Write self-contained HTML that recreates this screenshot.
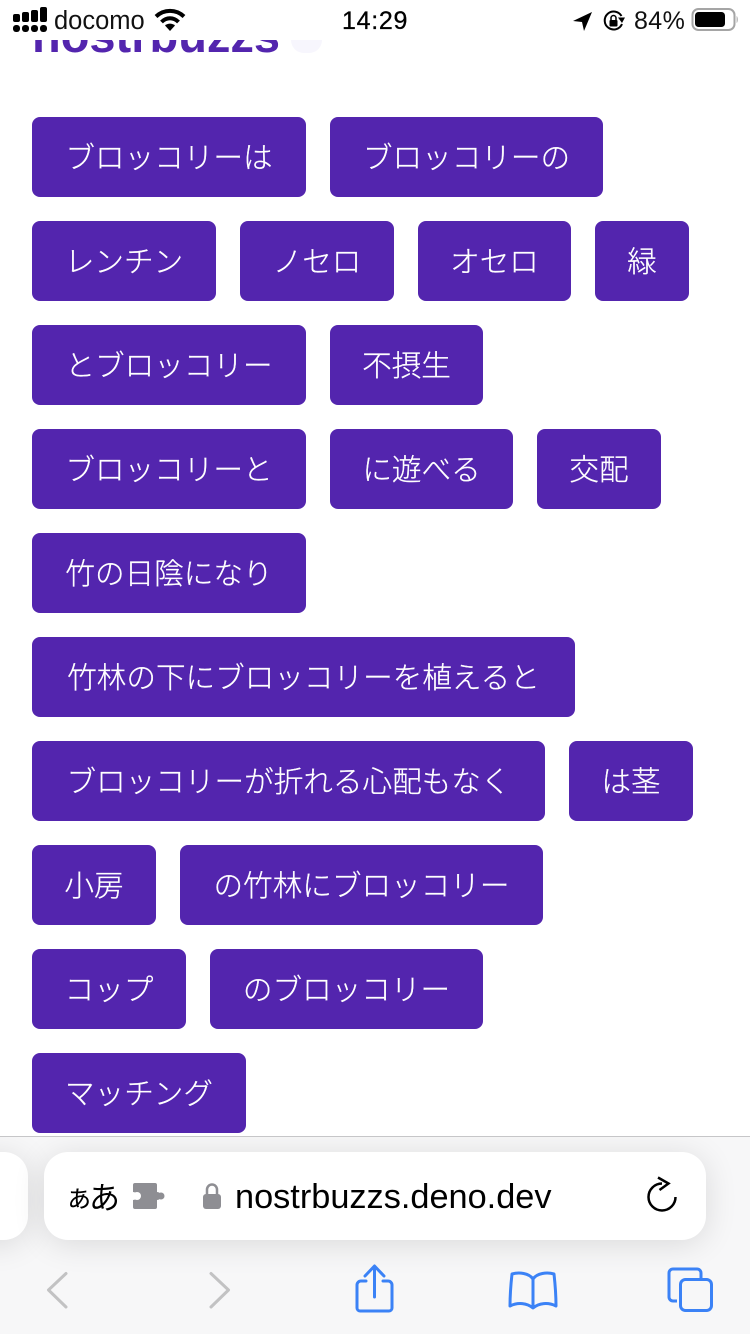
<!DOCTYPE html>
<html lang="ja">
<head>
<meta charset="utf-8">
<style>
html,body{margin:0;padding:0;background:#fff}
#p{position:relative;width:750px;height:1334px;overflow:hidden;background:#fff;font-family:"Liberation Sans","Noto Sans CJK JP",sans-serif}
.b{position:absolute;height:80px;line-height:78px;background:#5325ae;color:#fff;border-radius:8px;font-size:29.600px;text-align:center;white-space:nowrap;font-family:"Noto Sans CJK JP","Liberation Sans",sans-serif;font-weight:300;-webkit-text-stroke:.25px #fff}
.t{position:absolute;white-space:nowrap}
svg{position:absolute}
</style>
</head>
<body>
<div id="p">
<div style="position:absolute;left:291px;top:40px;width:31px;height:13px;background:#f7f6fd;border-radius:0 0 16px 16px"></div>
<div style="position:absolute;left:32px;top:40px;width:252px;height:14px;overflow:hidden"><div style="position:absolute;left:0;top:-33px;font-size:47px;font-weight:700;line-height:58px;color:#5325ae;white-space:nowrap">nostrbuzzs</div></div>

<!-- status bar -->
<svg style="left:12px;top:6px" width="36" height="27" viewBox="0 0 36 27" fill="#000">
<rect x="1" y="8" width="7" height="8" rx="2"/><rect x="1" y="19" width="7" height="7" rx="3"/>
<rect x="10" y="6" width="7" height="10" rx="2"/><rect x="10" y="19" width="7" height="7" rx="3"/>
<rect x="19" y="4" width="7" height="12" rx="2"/><rect x="19" y="19" width="7" height="7" rx="3"/>
<rect x="28" y="1" width="7" height="15" rx="2"/><rect x="28" y="19" width="7" height="7" rx="3"/>
</svg>
<div class="t" style="left:54px;top:7px;font-size:25.500px;line-height:29px;color:#111">docomo</div>
<svg style="left:154px;top:8px" width="32" height="24" viewBox="0 0 32 24">
<path d="M2 8.500C10 1 22 1 30 8.500" fill="none" stroke="#000" stroke-width="4"/>
<path d="M7.500 14C12.500 9 19.500 9 24.500 14" fill="none" stroke="#000" stroke-width="4"/>
<path d="M11 17.500C14 15 18 15 21 17.500L16 23Z" fill="#000"/>
</svg>
<div class="t" style="left:342px;top:6px;font-size:25px;line-height:30px;color:#000;letter-spacing:.7px;-webkit-text-stroke:.3px #000">14:29</div>
<svg style="left:572px;top:10px" width="22" height="22" viewBox="0 0 22 22"><path d="M20 2L1 11l9 1 2 9z" fill="#000"/></svg>
<svg style="left:602px;top:9px" width="24" height="24" viewBox="0 0 24 24">
<path d="M20 15A9 9 0 1 1 19.500 7" fill="none" stroke="#000" stroke-width="2"/>
<path d="M16 8.500h7L20 14z" fill="#000"/>
<rect x="7.500" y="11" width="8" height="6.500" rx="1" fill="#000"/>
<path d="M9 11V9a2.500 2.500 0 0 1 5 0v2" fill="none" stroke="#000" stroke-width="1.500"/>
</svg>
<div class="t" style="left:634px;top:6px;font-size:25px;line-height:30px;color:#111;letter-spacing:.4px">84%</div>
<svg style="left:690px;top:6px" width="50" height="26" viewBox="0 0 50 26">
<rect x="2.500" y="3" width="42" height="21" rx="6" fill="none" stroke="#a5a5a5" stroke-width="2"/>
<rect x="5" y="6" width="30" height="15" rx="3.500" fill="#000"/>
<path d="M46.500 10c2 1 2 6 0 7z" fill="#bbb"/>
</svg>

<!-- buttons -->
<div class="b" style="left:32px;top:117px;width:274px">ブロッコリーは</div>
<div class="b" style="left:330px;top:117px;width:273px">ブロッコリーの</div>
<div class="b" style="left:32px;top:221px;width:184px">レンチン</div>
<div class="b" style="left:240px;top:221px;width:154px">ノセロ</div>
<div class="b" style="left:418px;top:221px;width:153px">オセロ</div>
<div class="b" style="left:595px;top:221px;width:94px">緑</div>
<div class="b" style="left:32px;top:325px;width:274px">とブロッコリー</div>
<div class="b" style="left:330px;top:325px;width:153px">不摂生</div>
<div class="b" style="left:32px;top:429px;width:274px">ブロッコリーと</div>
<div class="b" style="left:330px;top:429px;width:183px">に遊べる</div>
<div class="b" style="left:537px;top:429px;width:124px">交配</div>
<div class="b" style="left:32px;top:533px;width:274px">竹の日陰になり</div>
<div class="b" style="left:32px;top:637px;width:543px">竹林の下にブロッコリーを植えると</div>
<div class="b" style="left:32px;top:741px;width:513px">ブロッコリーが折れる心配もなく</div>
<div class="b" style="left:569px;top:741px;width:124px">は茎</div>
<div class="b" style="left:32px;top:845px;width:124px">小房</div>
<div class="b" style="left:180px;top:845px;width:363px">の竹林にブロッコリー</div>
<div class="b" style="left:32px;top:949px;width:154px">コップ</div>
<div class="b" style="left:210px;top:949px;width:273px">のブロッコリー</div>
<div class="b" style="left:32px;top:1053px;width:214px">マッチング</div>

<!-- bottom bar -->
<div style="position:absolute;left:0;top:1136px;width:750px;height:198px;background:#f7f7f8;border-top:1px solid #c6c6c8;box-sizing:border-box;overflow:hidden">
<div style="position:absolute;left:-40px;top:15px;width:68px;height:88px;background:#fff;border-radius:24px;box-shadow:0 4px 32px rgba(0,0,0,.12)"></div>
<div style="position:absolute;left:44px;top:15px;width:662px;height:88px;background:#fff;border-radius:24px;box-shadow:0 4px 32px rgba(0,0,0,.12)"></div>
</div>
<div class="t" style="left:65px;top:1178px;font-size:28px;line-height:36px;color:#000;font-family:'Noto Sans CJK JP',sans-serif">ぁ</div>
<div class="t" style="left:89px;top:1178px;font-size:31px;line-height:36px;color:#000;font-family:'Noto Sans CJK JP',sans-serif">あ</div>
<svg style="left:132px;top:1182px" width="34" height="28" viewBox="0 0 34 28">
<path d="M3 1h20a2 2 0 0 1 2 2v7a4 4 0 1 1 0 8v7a2 2 0 0 1-2 2H3a2 2 0 0 1-2-2V18a4 4 0 1 0 0-8V3a2 2 0 0 1 2-2z" fill="#8e8e93"/>
<circle cx="29" cy="14" r="3.500" fill="#8e8e93"/>
<circle cx="5" cy="14" r="4" fill="#fff"/>
</svg>
<svg style="left:202px;top:1182px" width="20" height="28" viewBox="0 0 20 28">
<rect x="1" y="12" width="18" height="15" rx="3" fill="#8e8e93"/>
<path d="M5 13V7.500a5 5 0 0 1 10 0V13" fill="none" stroke="#8e8e93" stroke-width="2.500"/>
</svg>
<div class="t" style="left:235px;top:1177px;font-size:34.300px;line-height:40px;color:#000">nostrbuzzs.deno.dev</div>
<svg style="left:644px;top:1172px" width="36" height="42" viewBox="0 0 36 42" fill="none" stroke="#000" stroke-width="2.500">
<path d="M18 11.500A13.500 13.500 0 1 0 31.500 25"/>
<path d="M14 5.500l10.500 6-9 6.500" stroke-linejoin="miter"/>
</svg>
<svg style="left:44px;top:1270px" width="26" height="40" viewBox="0 0 26 40" fill="none" stroke="#c2c2c3" stroke-width="3" stroke-linecap="round" stroke-linejoin="round"><path d="M22 3.500L4.500 20 22 37"/></svg>
<svg style="left:207px;top:1270px" width="26" height="40" viewBox="0 0 26 40" fill="none" stroke="#c2c2c3" stroke-width="3" stroke-linecap="round" stroke-linejoin="round"><path d="M4 3.500L21.500 20 4 37"/></svg>
<svg style="left:354px;top:1264px" width="42" height="50" viewBox="0 0 42 50" fill="none" stroke="#3b82f6" stroke-width="3" stroke-linecap="round" stroke-linejoin="round">
<path d="M12 17H7a4 4 0 0 0-4 4v23a3 3 0 0 0 3 3h29a3 3 0 0 0 3-3V21a4 4 0 0 0-4-4h-5"/>
<path d="M20.500 33V3M11 12l9.500-10L30 12"/>
</svg>
<svg style="left:508px;top:1270px" width="50" height="40" viewBox="0 0 50 40" fill="none" stroke="#3b82f6" stroke-width="3" stroke-linejoin="round">
<path d="M25 9C21 3 11 2 4 4 3 13 2 25 2 36c8-4 17-3 23 2 6-5 15-6 23-2 0-11-1-23-2-32-7-2-17-1-21 5V37"/>
</svg>
<svg style="left:667px;top:1266px" width="48" height="48" viewBox="0 0 48 48" fill="none" stroke="#3b82f6" stroke-width="3">
<path d="M10 35H6a4 4 0 0 1-4-4V7a4 4 0 0 1 4-4h24a4 4 0 0 1 4 4v6"/>
<rect x="13.500" y="13.500" width="31" height="31" rx="5"/>
</svg>
</div>
</body>
</html>
